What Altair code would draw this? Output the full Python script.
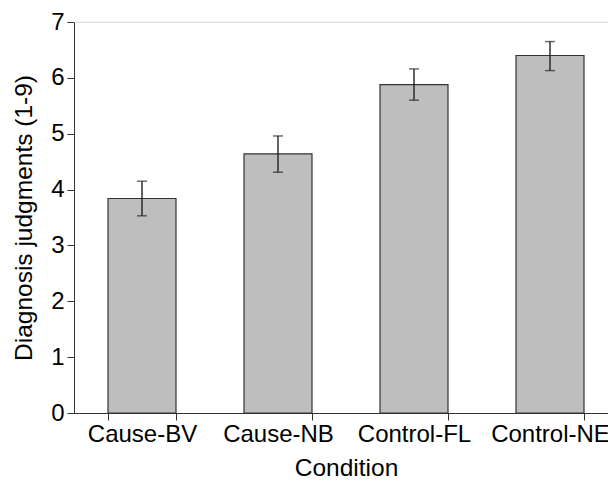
import altair as alt
import pandas as pd

conditions = ["Cause-BV", "Cause-NB", "Control-FL", "Control-NE"]
means = [3.84, 4.64, 5.88, 6.40]
err_low = [3.53, 4.31, 5.60, 6.13]
err_high = [4.15, 4.96, 6.16, 6.65]
y_ticks = [0, 1, 2, 3, 4, 5, 6, 7]

df = pd.DataFrame({"Condition": conditions, "mean": means, "lo": err_low, "hi": err_high})

FONT = "Liberation Sans"

x = alt.X(
    "Condition:N",
    sort=conditions,
    scale=alt.Scale(range=[0, 544], paddingInner=0.5, paddingOuter=0.25),
    axis=alt.Axis(
        title="Condition",
        labelAngle=0,
        tickBand="extent",
        tickSize=7,
        labelPadding=2,
        titlePadding=10,
        labelFontSize=24,
        titleFontSize=24.5,
        labelFont=FONT,
        titleFont=FONT,
        labelColor="#000",
        titleColor="#000",
        titleFontWeight="normal",
        domainColor="#333",
        tickColor="#333",
        labelOverlap=False,
        labelBound=False,
    ),
)

y_axis = alt.Axis(
    title="Diagnosis judgments (1-9)",
    values=y_ticks,
    format="d",
    tickSize=7,
    labelPadding=3,
    titlePadding=14,
    labelFontSize=24,
    titleFontSize=24.5,
    labelFont=FONT,
    titleFont=FONT,
    labelColor="#000",
    titleColor="#000",
    titleFontWeight="normal",
    domainColor="#333",
    tickColor="#333",
    grid=False,
)

base = alt.Chart(df)

bars = base.mark_bar(fill="#bebebe", stroke="#333", strokeWidth=1.2).encode(
    x=x,
    y=alt.Y("mean:Q", scale=alt.Scale(domain=[0, 7], nice=False, zero=True), axis=y_axis),
)

top_line = alt.Chart(pd.DataFrame({"v": [y_ticks[-1]]})).mark_rule(color="#e6e6e6", strokeWidth=1).encode(
    y=alt.Y("v:Q")
)

err = base.mark_rule(color="#222", strokeWidth=1.4).encode(
    x=alt.X("Condition:N", sort=conditions),
    y=alt.Y("lo:Q"),
    y2="hi:Q",
)
cap_lo = base.mark_tick(color="#222", size=10, thickness=1.4, orient="horizontal").encode(
    x=alt.X("Condition:N", sort=conditions), y=alt.Y("lo:Q")
)
cap_hi = base.mark_tick(color="#222", size=10, thickness=1.4, orient="horizontal").encode(
    x=alt.X("Condition:N", sort=conditions), y=alt.Y("hi:Q")
)

chart = (
    alt.layer(top_line, bars, err, cap_lo, cap_hi)
    .properties(
        width=534,
        height=391,
        autosize=alt.AutoSizeParams(type="none"),
        padding={"left": 74, "top": 22, "right": 0, "bottom": 68},
    )
    .configure_view(stroke=None)
    .configure(background="white")
)

chart.save("out.html", embed_options={"renderer": "svg", "actions": False})
